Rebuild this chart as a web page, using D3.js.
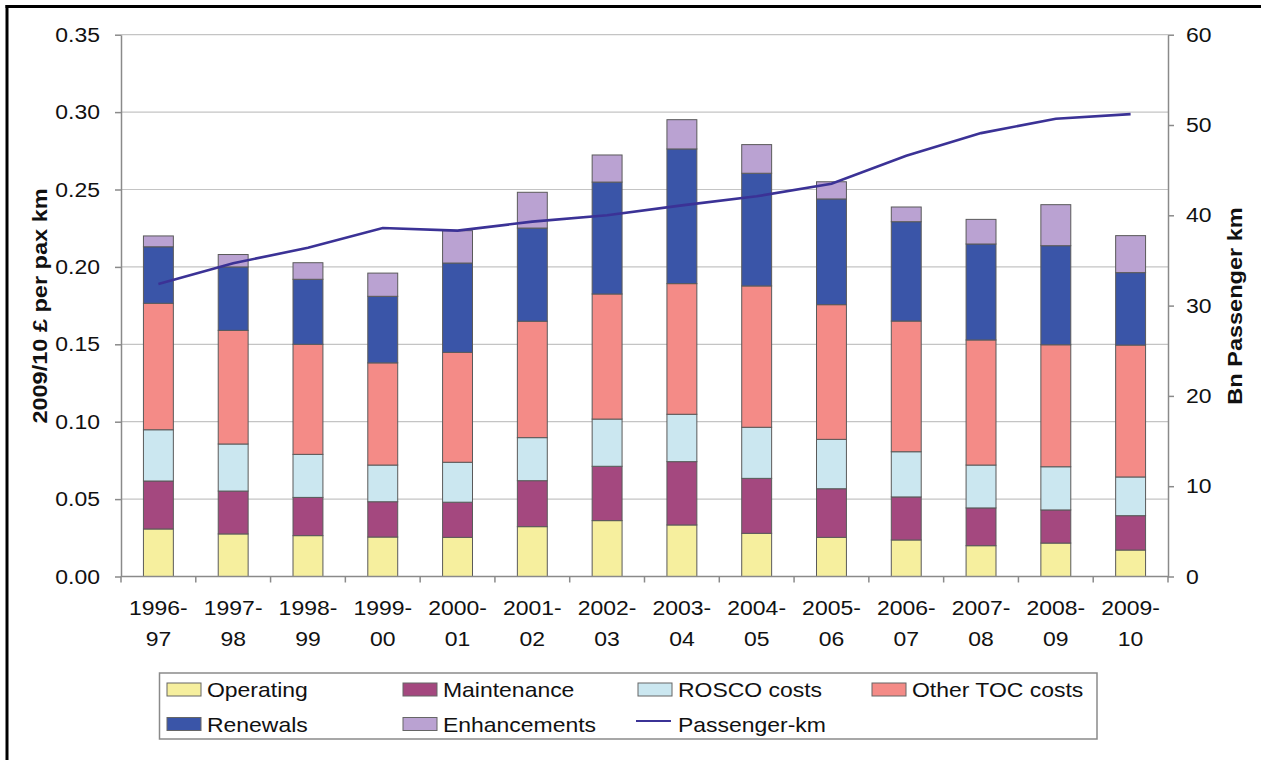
<!DOCTYPE html>
<html>
<head>
<meta charset="utf-8">
<script src="https://cdn.jsdelivr.net/npm/d3@7"></script>
<style>
  html, body { margin: 0; padding: 0; background: #fff; }
  svg { display: block; }
  text { font-family: "Liberation Sans", Arial, sans-serif; fill: #111; }
</style>
</head>
<body>
<svg id="chart" width="1261" height="760"></svg>
<script>
const categories = ["1996-97","1997-98","1998-99","1999-00","2000-01","2001-02","2002-03","2003-04","2004-05","2005-06","2006-07","2007-08","2008-09","2009-10"];
const operating    = [0.0307,0.0275,0.0264,0.0255,0.0253,0.0322,0.0361,0.0333,0.0279,0.0253,0.0236,0.0199,0.0216,0.0171];
const maintenance  = [0.0310,0.0277,0.0247,0.0228,0.0227,0.0297,0.0351,0.0409,0.0355,0.0314,0.0278,0.0244,0.0214,0.0222];
const rosco        = [0.0331,0.0304,0.0278,0.0237,0.0258,0.0278,0.0305,0.0306,0.0330,0.0319,0.0292,0.0277,0.0279,0.0250];
const otherToc     = [0.0817,0.0734,0.0711,0.0660,0.0710,0.0752,0.0808,0.0844,0.0913,0.0870,0.0844,0.0808,0.0788,0.0852];
const renewals     = [0.0365,0.0410,0.0420,0.0430,0.0577,0.0602,0.0723,0.0870,0.0728,0.0683,0.0642,0.0620,0.0640,0.0468];
const enhancements = [0.0070,0.0080,0.0107,0.0150,0.0209,0.0231,0.0175,0.0189,0.0185,0.0111,0.0095,0.0159,0.0265,0.0239];
const passengerKm  = [32.4,34.7,36.4,38.6,38.3,39.3,40.0,41.1,42.1,43.5,46.6,49.1,50.7,51.2];
const leftTicks  = [0,0.05,0.10,0.15,0.20,0.25,0.30,0.35];
const rightTicks = [0,10,20,30,40,50,60];
const seriesNames = ["Operating","Maintenance","ROSCO costs","Other TOC costs","Renewals","Enhancements"];
const lineName = "Passenger-km";
const leftTitle = "2009/10 £ per pax km";
const rightTitle = "Bn Passenger km";

const colors = ["#f6ef9e","#a4487f","#cbe7f0","#f48b87","#3a55a8","#baa2d2"];
const lineColor = "#3b3296";
const SX = 1.12, FS = 20.5;

const svg = d3.select("#chart");
const L = 121, R = 1168, T = 34.7, B = 576.5;

const table = categories.map((c, i) => ({
  cat: c,
  "Operating": operating[i], "Maintenance": maintenance[i], "ROSCO costs": rosco[i],
  "Other TOC costs": otherToc[i], "Renewals": renewals[i], "Enhancements": enhancements[i]
}));
const stacked = d3.stack().keys(seriesNames)(table);

const x = d3.scaleBand().domain(categories).range([L, R]).paddingInner(0.6).paddingOuter(0.3);
const y = d3.scaleLinear().domain([0, 0.35]).range([B, T]);
const y2 = d3.scaleLinear().domain([0, 60]).range([B, T]);
const cx = c => x(c) + x.bandwidth() / 2;

// frame
svg.append("line").attr("x1", 5.5).attr("x2", 1261).attr("y1", 6.5).attr("y2", 6.5).attr("stroke", "#000").attr("stroke-width", 3);
svg.append("line").attr("x1", 7).attr("x2", 7).attr("y1", 5).attr("y2", 760).attr("stroke", "#000").attr("stroke-width", 3);

// gridlines
svg.append("g").selectAll("line").data(leftTicks.filter(d => d > 0)).join("line")
  .attr("x1", L).attr("x2", R).attr("y1", d => y(d)).attr("y2", d => y(d))
  .attr("stroke", "#c4c4c4").attr("stroke-width", 1.2);

// bars
svg.append("g").selectAll("g").data(stacked).join("g")
  .attr("fill", (d, i) => colors[i])
  .selectAll("rect").data(d => d).join("rect")
  .attr("x", d => x(d.data.cat))
  .attr("width", x.bandwidth())
  .attr("y", d => y(d[1]))
  .attr("height", d => y(d[0]) - y(d[1]))
  .attr("stroke", "#5a5a5a").attr("stroke-width", 1);

// line
svg.append("path").datum(passengerKm)
  .attr("fill", "none").attr("stroke", lineColor).attr("stroke-width", 2.6)
  .attr("d", d3.line().x((d, i) => cx(categories[i])).y(d => y2(d)));

const axisColor = "#8a8a8a";
function styleAxis(g) {
  g.selectAll("path, line").attr("stroke", axisColor).attr("stroke-width", 1.5);
  g.selectAll("text").attr("font-size", FS).style("font-family", "'Liberation Sans', Arial, sans-serif").attr("fill", "#111");
}

// left axis
const gl = svg.append("g").attr("transform", `translate(${L},0)`)
  .call(d3.axisLeft(y).tickValues(leftTicks).tickFormat(d3.format(".2f")).tickSize(6).tickSizeOuter(0));
styleAxis(gl);
gl.selectAll("text").attr("x", -21 / SX).attr("transform", `scale(${SX},1)`);

// right axis
const gr = svg.append("g").attr("transform", `translate(${R},0)`)
  .call(d3.axisRight(y2).tickValues(rightTicks).tickSize(6).tickSizeOuter(0));
styleAxis(gr);
gr.selectAll("text").attr("x", 18 / SX).attr("transform", `scale(${SX},1)`);

// bottom axis
const gb = svg.append("g").attr("transform", `translate(0,${B})`)
  .call(d3.axisBottom(x).tickSize(0).tickSizeOuter(0).tickFormat(""));
styleAxis(gb);
gb.select(".domain").attr("d", `M${L},0H${R}`);
const gap = (x.step() - x.bandwidth()) / 2;
const bounds = categories.map(c => x(c) - gap).concat([R]);
gb.append("g").selectAll("line").data(bounds).join("line")
  .attr("x1", d => d).attr("x2", d => d).attr("y1", 0).attr("y2", 6)
  .attr("stroke", axisColor).attr("stroke-width", 1.5);

// category labels (two lines)
const lab = svg.append("g").selectAll("g").data(categories).join("g")
  .attr("transform", c => `translate(${cx(c)},0)`);
lab.append("text").attr("text-anchor", "middle").attr("font-size", FS)
  .attr("transform", `translate(0,614.5) scale(${SX},1)`)
  .text(c => c.split("-")[0] + "-");
lab.append("text").attr("text-anchor", "middle").attr("font-size", FS)
  .attr("transform", `translate(0,645.5) scale(${SX},1)`)
  .text(c => c.split("-")[1]);

// axis titles
svg.append("text").attr("text-anchor", "middle").attr("font-size", 21).attr("font-weight", "bold")
  .attr("transform", `translate(47,306) rotate(-90) scale(${SX},1)`).text(leftTitle);
svg.append("text").attr("text-anchor", "middle").attr("font-size", 21).attr("font-weight", "bold")
  .attr("transform", `translate(1242,306) rotate(-90) scale(${SX},1)`).text(rightTitle);

// legend
svg.append("rect").attr("x", 159.5).attr("y", 673).attr("width", 937.5).attr("height", 66)
  .attr("fill", "#fff").attr("stroke", "#8a8a8a").attr("stroke-width", 1.5);
const colX = [167, 403, 638, 872];
const rowY = [689.5, 724];
const legendItems = seriesNames.map((n, i) => ({name: n, color: colors[i], type: "rect"}))
  .concat([{name: lineName, color: lineColor, type: "line"}]);
const li = svg.append("g").selectAll("g").data(legendItems).join("g")
  .attr("transform", (d, i) => `translate(${colX[i % 4]},${rowY[Math.floor(i / 4)]})`);
li.filter(d => d.type === "rect").append("rect")
  .attr("x", 0).attr("y", -6.5).attr("width", 34).attr("height", 13)
  .attr("fill", d => d.color).attr("stroke", "#666").attr("stroke-width", 1);
li.filter(d => d.type === "line").append("line")
  .attr("x1", -2).attr("x2", 33).attr("y1", -3).attr("y2", -3)
  .attr("stroke", d => d.color).attr("stroke-width", 2);
li.append("text").attr("font-size", FS)
  .attr("transform", `translate(40,7.5) scale(${SX},1)`).text(d => d.name);
</script>
</body>
</html>
